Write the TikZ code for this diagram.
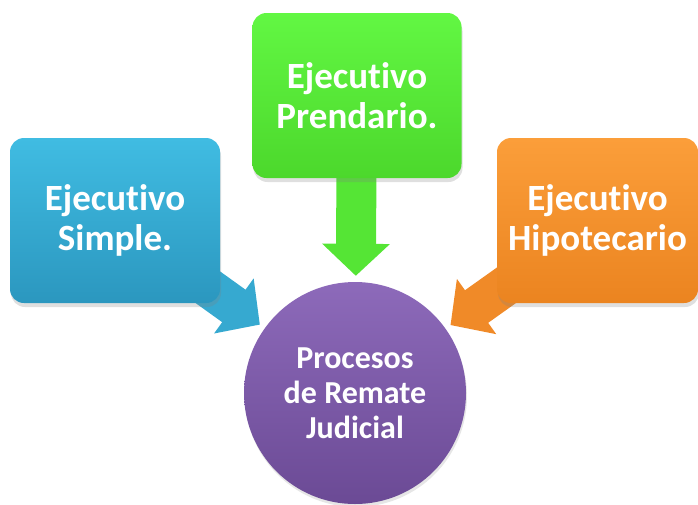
\documentclass[tikz,border=0pt]{standalone}
\usepackage{fontspec}
\setmainfont[Ligatures={NoCommon,NoContextual}]{Carlito}
\usetikzlibrary{arrows.meta,shadows}
\pgfdeclarelayer{bg}
\pgfsetlayers{bg,main}
\definecolor{bluetop}{HTML}{40BCE2}
\definecolor{bluebot}{HTML}{2B97BF}
\definecolor{bluearr}{HTML}{36A9D0}
\definecolor{greentop}{HTML}{62F743}
\definecolor{greenbot}{HTML}{4CD82C}
\definecolor{greenarr}{HTML}{55E535}
\definecolor{orangetop}{HTML}{FB9E3A}
\definecolor{orangebot}{HTML}{EB8420}
\definecolor{orangearr}{HTML}{F08A28}
\definecolor{purptop}{HTML}{8D6ABA}
\definecolor{purpbot}{HTML}{6B4A95}
\newcommand{\ejec}{Ejecut\kern0pt ivo}
\tikzset{
  box/.style={rounded corners=14pt, inner sep=0pt, minimum height=165pt,
    align=center, text=white, font=\fontsize{37}{40}\selectfont\bfseries,
    drop shadow={shadow xshift=1pt, shadow yshift=-4pt, opacity=0.25}},
  conn/.style={line width=40pt, shorten >=6pt,
    -{Triangle[length=32pt,width=66pt]}},
}
\begin{document}
\begin{tikzpicture}[x=1pt,y=-1pt]
\useasboundingbox (0,0) rectangle (698,504);
\node[box, minimum width=210pt, top color=bluetop, bottom color=bluebot] (simple) at (115,220.5) {\ejec\\Simple.};
\node[box, minimum width=209pt, top color=greentop, bottom color=greenbot] (prend) at (357,95.5) {\ejec\\Prendario.};
\node[box, minimum width=201pt, top color=orangetop, bottom color=orangebot] (hipo) at (597.5,220.5) {\ejec\\Hipotecario};
\node[circle, minimum size=222pt, inner sep=0pt, top color=purptop, bottom color=purpbot,
  align=center, text=white, font=\fontsize{32}{35}\selectfont\bfseries,
  drop shadow={shadow xshift=1pt, shadow yshift=-3pt, opacity=0.2}] (remate) at (355,393) {Procesos\\de Remate\\Judicial};
\begin{pgfonlayer}{bg}
\draw[conn, draw=bluearr, fill=bluearr] (simple.center) -- (remate);
\draw[conn, draw=greenarr, fill=greenarr] (prend.center) -- (remate);
\draw[conn, draw=orangearr, fill=orangearr] (hipo.center) -- (remate);
\end{pgfonlayer}
\end{tikzpicture}
\end{document}
